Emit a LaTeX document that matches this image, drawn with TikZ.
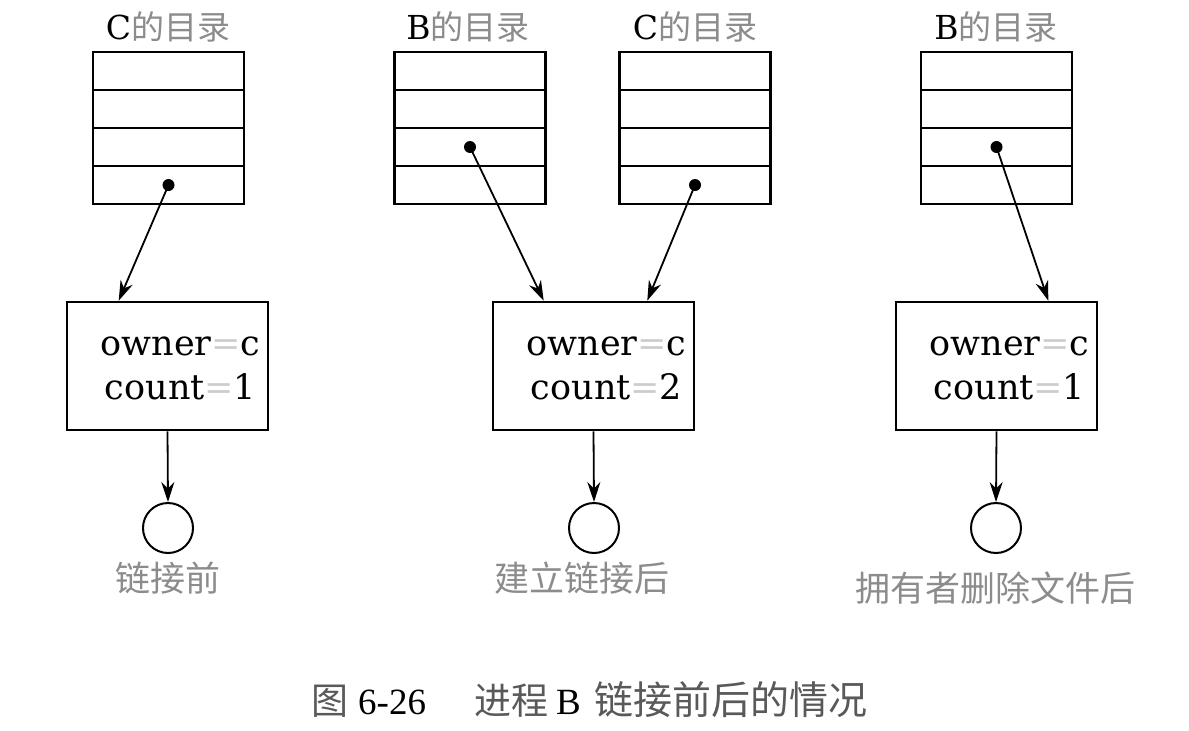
\documentclass[tikz,border=0pt]{standalone}
\usepackage{fontspec}
\setmainfont{DejaVu Serif}
\newfontfamily\cjk{Noto Sans CJK SC}
\newfontfamily\capfont{Liberation Serif}
\usetikzlibrary{arrows.meta}
\definecolor{labgray}{gray}{0.55}
\definecolor{capgray}{gray}{0.35}
\definecolor{eqgray}{gray}{0.8}
\newcommand{\eqs}{\textcolor{eqgray}{=}}
\newcommand{\zh}[1]{{\cjk\color{labgray}#1}}
\newcommand{\zhcap}[1]{{\cjk\color{capgray}#1}}

\begin{document}
\begin{tikzpicture}[x=1pt,y=-1pt,
    cell/.style={draw,line width=2.6pt,minimum width=151pt,minimum height=38pt,inner sep=0pt},
    inode/.style={draw,line width=2.6pt,minimum width=201pt,minimum height=128pt,inner sep=0pt},
    file/.style={draw,circle,line width=2pt,minimum size=50pt,inner sep=0pt},
    dot/.style={circle,fill,minimum size=12pt,inner sep=0pt},
    arr/.style={-{Stealth[length=20pt,width=13pt]},line width=1.8pt},
    title/.style={font=\fontsize{33}{33}\selectfont},
    lab/.style={font=\fontsize{35}{35}\selectfont\cjk,text=labgray},
    info/.style={font=\fontsize{35}{44}\selectfont,align=center}]
    \useasboundingbox (0,0) rectangle (1189,731);
%Directories
    \foreach \t/\x in {C1/168.5, B2/470, C2/695, B3/996.5}
        \foreach \i in {1,...,4}
            \node[cell] (dir\t-\i) at (\x,33+38*\i) {};
    \node[title] (tC1) at (168,27) {C\zh{的目录}};
    \node[title] (tB2) at (468,27) {B\zh{的目录}};
    \node[title] (tC2) at (695,27) {C\zh{的目录}};
    \node[title] (tB3) at (996,27) {B\zh{的目录}};
    \node[dot] (pC1) at (dirC1-4) {};
    \node[dot] (pB2) at (dirB2-3) {};
    \node[dot] (pC2) at (dirC2-4) {};
    \node[dot] (pB3) at (dirB3-3) {};
%I-nodes
    \node[inode] (iA) at (167.5,366) {};
    \node[inode] (iB) at (593.5,366) {};
    \node[inode] (iC) at (996.5,366) {};
    \node[info] (tA) at (180.5,368) {owner\eqs c\\count\eqs 1};
    \node[info] (tB) at (606.5,368) {owner\eqs c\\count\eqs 2};
    \node[info] (tC) at (1009.5,368) {owner\eqs c\\count\eqs 1};
    \draw[arr] (pC1.center) -- ([xshift=53pt]iA.north west);
    \draw[arr] (pB2.center) -- ([xshift=52pt]iB.north west);
    \draw[arr] (pC2.center) -- ([xshift=-48pt]iB.north east);
    \draw[arr] (pB3.center) -- ([xshift=-50pt]iC.north east);
%Files
    \node[file] (fA) at (168,528) {};
    \node[file] (fB) at (594,528) {};
    \node[file] (fC) at (996,528) {};
    \draw[arr] (iA.south) -- (fA.north);
    \draw[arr] (iB.south) -- (fB.north);
    \draw[arr] (iC.south) -- (fC.north);
    \node[lab] (lA) at (168,578) {链接前};
    \node[lab] (lB) at (582,578) {建立链接后};
    \node[lab] (lC) at (995,588) {拥有者删除文件后};
%Caption
    \node[font=\fontsize{37}{37}\capfont,anchor=west,inner sep=0pt] (cap) at (311,700)
        {\zhcap{图}\hspace{10pt}6-26\hspace{48pt}\zhcap{进程}\hspace{8pt}B\hspace{14pt}{\fontsize{39}{39}\selectfont\zhcap{链接前后的情况}}};
\end{tikzpicture}
\end{document}
